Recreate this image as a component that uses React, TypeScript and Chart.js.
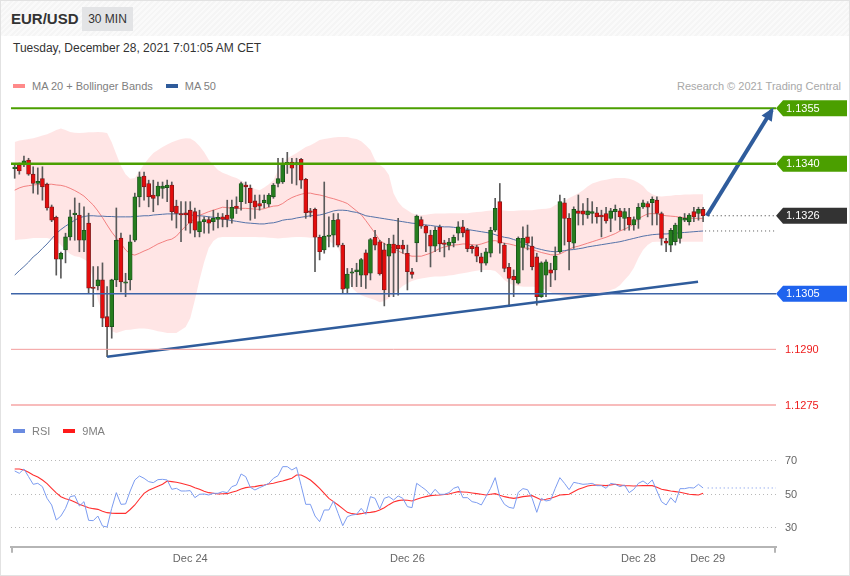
import React, { useEffect, useRef } from "react";
import { Chart, registerables } from "chart.js";

Chart.register(...registerables);

const FONT = '"Liberation Sans", Arial, Helvetica, sans-serif';
Chart.defaults.font.family = FONT;

// ---------------- DATA ----------------
const candleOpen = [
  1.13387, 1.13397, 1.13397, 1.1341, 1.13372, 1.13347, 1.1336, 1.13345, 1.13284, 1.13256,
  1.13143, 1.13168, 1.13203, 1.13263, 1.13262, 1.13194, 1.1324, 1.13066, 1.13071, 1.13087,
  1.12988, 1.12961, 1.13087, 1.132, 1.13078, 1.13087, 1.13194, 1.13311, 1.13367, 1.13347,
  1.13316, 1.13313, 1.13334, 1.13336, 1.13343, 1.13286, 1.13266, 1.13268, 1.13275, 1.13271,
  1.13217, 1.13244, 1.1325, 1.13244, 1.1325, 1.13257, 1.13262, 1.13253, 1.13286, 1.13298,
  1.13343, 1.13334, 1.133, 1.13293, 1.13295, 1.13291, 1.13311, 1.13347, 1.13351, 1.134,
  1.13405, 1.13397, 1.13412, 1.13358, 1.13272, 1.13277, 1.13202, 1.13168, 1.13204, 1.13208,
  1.1325, 1.13181, 1.13064, 1.13105, 1.13109, 1.131, 1.1316, 1.13105, 1.13202, 1.1319,
  1.13168, 1.13151, 1.13184, 1.13181, 1.13181, 1.13159, 1.13109, 1.13187, 1.1325, 1.13232,
  1.13208, 1.13178, 1.13229, 1.13187, 1.1318, 1.13187, 1.13213, 1.1323, 1.13221, 1.13178,
  1.13176, 1.13149, 1.13132, 1.13159, 1.13221, 1.13298, 1.13181, 1.13121, 1.13097, 1.13078,
  1.13175, 1.13203, 1.13178, 1.13149, 1.13042, 1.131, 1.13114, 1.13114, 1.13163, 1.13295,
  1.13253, 1.13186, 1.13273, 1.13273, 1.13262, 1.13266, 1.13268, 1.13262, 1.13266, 1.13253,
  1.13271, 1.13273, 1.13253, 1.13256, 1.13235, 1.1325, 1.13284, 1.13293, 1.13295, 1.13302,
  1.13266, 1.13192, 1.13181, 1.1319, 1.13199, 1.13248, 1.13244, 1.13271, 1.13266, 1.13277,
];
const candleHigh = [
  1.13397, 1.13402, 1.13421, 1.13415, 1.13392, 1.13389, 1.13392, 1.13348, 1.13289, 1.13259,
  1.13162, 1.13213, 1.13275, 1.13308, 1.13294, 1.13284, 1.13267, 1.13123, 1.13123, 1.13133,
  1.13069, 1.13089, 1.13281, 1.13213, 1.13105, 1.13208, 1.13321, 1.13378, 1.13378, 1.13356,
  1.13356, 1.13351, 1.13351, 1.13356, 1.13351, 1.13302, 1.13298, 1.13298, 1.13298, 1.13281,
  1.13275, 1.13257, 1.13257, 1.13275, 1.13267, 1.13266, 1.13302, 1.13302, 1.13311, 1.13351,
  1.13351, 1.13343, 1.13316, 1.13316, 1.13316, 1.1332, 1.13347, 1.13415, 1.13415, 1.13431,
  1.13415, 1.13415, 1.13415, 1.13361, 1.1328, 1.13281, 1.13208, 1.13351, 1.13257, 1.13266,
  1.13266, 1.13186, 1.13118, 1.13118, 1.13132, 1.13145, 1.13168, 1.13199, 1.13221, 1.13194,
  1.13186, 1.13199, 1.13208, 1.13253, 1.13194, 1.13181, 1.13118, 1.13262, 1.13257, 1.13235,
  1.13221, 1.1323, 1.13235, 1.13194, 1.13199, 1.13208, 1.13244, 1.13248, 1.13226, 1.13181,
  1.13181, 1.13159, 1.13172, 1.13229, 1.13307, 1.13347, 1.13186, 1.13132, 1.13114, 1.13203,
  1.1323, 1.13235, 1.13203, 1.13159, 1.13136, 1.13141, 1.13132, 1.13176, 1.13316, 1.13307,
  1.13266, 1.13284, 1.13316, 1.13293, 1.13307, 1.13298, 1.13283, 1.13275, 1.13283, 1.1328,
  1.13289, 1.1328, 1.1328, 1.1328, 1.13257, 1.13293, 1.13302, 1.13298, 1.13311, 1.13311,
  1.1327, 1.13199, 1.13226, 1.1324, 1.13257, 1.13266, 1.13266, 1.13283, 1.13283, 1.13283,
];
const candleLow = [
  1.13361, 1.13372, 1.13392, 1.13369, 1.13321, 1.13318, 1.13302, 1.13275, 1.13244, 1.131,
  1.13092, 1.13133, 1.13194, 1.13194, 1.13163, 1.13163, 1.13052, 1.13015, 1.1306, 1.12961,
  1.1288, 1.1293, 1.13069, 1.13055, 1.13042, 1.1306, 1.1319, 1.13284, 1.13302, 1.13284,
  1.13271, 1.13289, 1.13307, 1.13298, 1.13248, 1.13227, 1.1319, 1.13221, 1.13213, 1.13203,
  1.13203, 1.13213, 1.13213, 1.13221, 1.13227, 1.1323, 1.1323, 1.1324, 1.13266, 1.13275,
  1.13293, 1.13248, 1.13253, 1.13275, 1.13281, 1.13284, 1.13307, 1.13338, 1.13347, 1.13374,
  1.13347, 1.13343, 1.13334, 1.13253, 1.13257, 1.13109, 1.13141, 1.13159, 1.13176, 1.13176,
  1.13176, 1.13051, 1.13051, 1.13069, 1.13069, 1.13069, 1.13064, 1.13087, 1.13168, 1.131,
  1.13017, 1.13042, 1.13042, 1.13046, 1.13159, 1.1306, 1.13092, 1.13136, 1.13226, 1.13163,
  1.13122, 1.13163, 1.13163, 1.13149, 1.13168, 1.13176, 1.13194, 1.13203, 1.13163, 1.13159,
  1.13136, 1.13109, 1.13127, 1.13149, 1.13217, 1.13159, 1.13109, 1.13015, 1.13042, 1.13076,
  1.13114, 1.13168, 1.13114, 1.13019, 1.1304, 1.13042, 1.13069, 1.13087, 1.13159, 1.13181,
  1.13114, 1.13172, 1.13235, 1.13235, 1.13253, 1.1324, 1.1324, 1.13203, 1.1324, 1.13217,
  1.13248, 1.13221, 1.13221, 1.13221, 1.13221, 1.13226, 1.1328, 1.13257, 1.13235, 1.13235,
  1.13181, 1.13163, 1.13163, 1.13181, 1.13186, 1.13244, 1.13235, 1.13244, 1.13248, 1.13244,
];
const candleClose = [
  1.13391, 1.13381, 1.13408, 1.13372, 1.13347, 1.13353, 1.13338, 1.13281, 1.13248, 1.13143,
  1.13159, 1.13203, 1.13257, 1.13266, 1.13194, 1.13221, 1.13065, 1.13064, 1.13087, 1.12984,
  1.12961, 1.13087, 1.13194, 1.13082, 1.13082, 1.1319, 1.13311, 1.13365, 1.13338, 1.13311,
  1.13307, 1.1334, 1.1334, 1.13343, 1.13271, 1.13266, 1.13262, 1.13262, 1.1324, 1.13221,
  1.13244, 1.1325, 1.1324, 1.13253, 1.13256, 1.1325, 1.1325, 1.13283, 1.1328, 1.13347,
  1.13338, 1.13295, 1.13283, 1.13286, 1.13302, 1.13316, 1.13343, 1.1336, 1.13401, 1.13402,
  1.13388, 1.13403, 1.13356, 1.13268, 1.13269, 1.13202, 1.13163, 1.13205, 1.13207, 1.13248,
  1.13181, 1.13062, 1.13103, 1.13109, 1.13114, 1.13142, 1.131, 1.13196, 1.13181, 1.13103,
  1.1306, 1.13184, 1.13159, 1.13171, 1.1317, 1.13109, 1.13102, 1.13259, 1.13232, 1.13213,
  1.13178, 1.13221, 1.13184, 1.13183, 1.13189, 1.13202, 1.1323, 1.13214, 1.13171, 1.13171,
  1.13151, 1.13132, 1.13163, 1.13221, 1.1328, 1.13186, 1.13118, 1.13091, 1.13087, 1.13199,
  1.13199, 1.13186, 1.13123, 1.13042, 1.13133, 1.13136, 1.13105, 1.13151, 1.13298, 1.13253,
  1.1319, 1.13277, 1.13266, 1.13264, 1.13273, 1.13271, 1.13257, 1.13257, 1.13246, 1.13273,
  1.13277, 1.13257, 1.13271, 1.13235, 1.1325, 1.13283, 1.13295, 1.13283, 1.13304, 1.13266,
  1.13199, 1.13186, 1.13221, 1.13235, 1.13256, 1.13253, 1.13262, 1.13257, 1.13277, 1.1326,
];
const bbUpper = [
  1.13459, 1.13463, 1.13465, 1.13467, 1.13469, 1.13472, 1.13476, 1.1348, 1.13485, 1.13491,
  1.13495, 1.13491, 1.13486, 1.13484, 1.13483, 1.13484, 1.13485, 1.13485, 1.13486, 1.13485,
  1.13483, 1.13458, 1.13426, 1.13394, 1.13372, 1.1336, 1.13362, 1.1338, 1.13399, 1.13415,
  1.13429, 1.13437, 1.13445, 1.13452, 1.13458, 1.13463, 1.13467, 1.13469, 1.13468, 1.13461,
  1.13448, 1.13432, 1.13411, 1.13397, 1.13383, 1.13376, 1.13371, 1.13366, 1.13362, 1.13355,
  1.13348, 1.1334, 1.13332, 1.13329, 1.13336, 1.13345, 1.13356, 1.13383, 1.13403, 1.13415,
  1.13422, 1.13429, 1.13437, 1.13445, 1.1345, 1.13457, 1.13464, 1.13467, 1.13469, 1.13471,
  1.13472, 1.13472, 1.13472, 1.13469, 1.13467, 1.13461, 1.1345, 1.13437, 1.1341, 1.13397,
  1.13388, 1.1337, 1.13321, 1.13297, 1.13283, 1.13275, 1.13267, 1.13263, 1.13262, 1.13263,
  1.13265, 1.13266, 1.13266, 1.13266, 1.13267, 1.13267, 1.13267, 1.13267, 1.13267, 1.13269,
  1.1327, 1.13271, 1.13273, 1.13274, 1.13275, 1.13275, 1.13274, 1.13273, 1.13273, 1.13274,
  1.13275, 1.13275, 1.13275, 1.13277, 1.13278, 1.13279, 1.13281, 1.13289, 1.13294, 1.133,
  1.13308, 1.13314, 1.13321, 1.13329, 1.13339, 1.13347, 1.13351, 1.13355, 1.13357, 1.1336,
  1.13362, 1.13362, 1.13362, 1.1336, 1.13356, 1.13349, 1.1334, 1.13326, 1.13318, 1.13313,
  1.13312, 1.13313, 1.13314, 1.13316, 1.13316, 1.13317, 1.13317, 1.13318, 1.13318, 1.13318,
];
const bbLower = [
  1.13194, 1.13196, 1.13197, 1.13198, 1.132, 1.132, 1.132, 1.132, 1.13197, 1.13192,
  1.13181, 1.13168, 1.13157, 1.13151, 1.13149, 1.13143, 1.13135, 1.13087, 1.13033, 1.12998,
  1.12965, 1.12949, 1.12944, 1.12948, 1.12952, 1.12953, 1.12955, 1.12956, 1.12956, 1.12955,
  1.12952, 1.12949, 1.12947, 1.12944, 1.12944, 1.12944, 1.12952, 1.1296, 1.12984, 1.13033,
  1.13087, 1.13135, 1.13173, 1.13192, 1.13201, 1.13203, 1.13203, 1.13203, 1.13203, 1.13203,
  1.13203, 1.13203, 1.13203, 1.13202, 1.13202, 1.13201, 1.132, 1.13199, 1.132, 1.13201,
  1.13202, 1.13203, 1.13203, 1.13202, 1.13201, 1.132, 1.13199, 1.13197, 1.13192, 1.13184,
  1.13173, 1.13146, 1.13097, 1.13065, 1.13054, 1.13046, 1.13041, 1.13037, 1.13033, 1.13027,
  1.1303, 1.13038, 1.1305, 1.1306, 1.13071, 1.13078, 1.13084, 1.13088, 1.13091, 1.13093,
  1.13095, 1.13096, 1.13096, 1.13097, 1.13099, 1.131, 1.13103, 1.13105, 1.13107, 1.1311,
  1.13112, 1.13114, 1.13114, 1.13114, 1.13111, 1.131, 1.13087, 1.13078, 1.13073, 1.13071,
  1.13069, 1.13069, 1.13069, 1.13068, 1.13065, 1.1306, 1.13054, 1.13049, 1.13045, 1.13042,
  1.1304, 1.13037, 1.13037, 1.1304, 1.13044, 1.13046, 1.1305, 1.13052, 1.13054, 1.1306,
  1.13064, 1.13073, 1.13087, 1.131, 1.13119, 1.13146, 1.13168, 1.13181, 1.13189, 1.1319,
  1.1319, 1.1319, 1.1319, 1.1319, 1.1319, 1.1319, 1.1319, 1.1319, 1.1319, 1.1319,
];
const ma20 = [
  1.13329, 1.13335, 1.13339, 1.13341, 1.13343, 1.13344, 1.13345, 1.13345, 1.13345, 1.13343,
  1.13342, 1.13339, 1.13334, 1.13328, 1.13321, 1.13313, 1.13301, 1.13289, 1.13273, 1.13255,
  1.13235, 1.13216, 1.132, 1.13185, 1.13168, 1.13157, 1.13154, 1.13159, 1.13165, 1.1317,
  1.13177, 1.13184, 1.13189, 1.13194, 1.13197, 1.13205, 1.13219, 1.13232, 1.13244, 1.13252,
  1.13261, 1.13266, 1.13271, 1.13275, 1.13279, 1.13283, 1.13282, 1.1328, 1.1328, 1.1328,
  1.1328, 1.13279, 1.13278, 1.13277, 1.13279, 1.13283, 1.13286, 1.13287, 1.13293, 1.13302,
  1.13309, 1.13314, 1.13318, 1.13321, 1.13321, 1.13318, 1.13316, 1.13313, 1.13309, 1.13306,
  1.13302, 1.13298, 1.13293, 1.13283, 1.13273, 1.13263, 1.13247, 1.1323, 1.13213, 1.13194,
  1.13185, 1.13177, 1.13172, 1.13165, 1.13159, 1.13154, 1.13151, 1.13151, 1.13151, 1.13155,
  1.13159, 1.13165, 1.13172, 1.13176, 1.13178, 1.13181, 1.13182, 1.13184, 1.13184, 1.13182,
  1.13181, 1.13184, 1.13188, 1.13192, 1.13193, 1.1319, 1.13186, 1.13184, 1.13181, 1.13177,
  1.13174, 1.13172, 1.13169, 1.13165, 1.13161, 1.13158, 1.13155, 1.13154, 1.13157, 1.13163,
  1.1317, 1.13175, 1.13178, 1.13182, 1.13186, 1.1319, 1.13194, 1.13198, 1.13202, 1.13207,
  1.13212, 1.13219, 1.13224, 1.1323, 1.13238, 1.13252, 1.13259, 1.13265, 1.13266, 1.13265,
  1.13262, 1.1326, 1.13259, 1.13258, 1.13256, 1.13255, 1.13254, 1.13253, 1.13253, 1.13253,
];
const ma50 = [
  1.131, 1.13112, 1.13123, 1.13135, 1.13149, 1.13159, 1.13172, 1.13184, 1.13198, 1.13212,
  1.13223, 1.13232, 1.1324, 1.13248, 1.13255, 1.13258, 1.1326, 1.1326, 1.13259, 1.13259,
  1.13258, 1.13258, 1.13257, 1.13257, 1.13257, 1.13257, 1.13258, 1.13259, 1.1326, 1.1326,
  1.13262, 1.13263, 1.13264, 1.13265, 1.13265, 1.13265, 1.13265, 1.13264, 1.13262, 1.13261,
  1.1326, 1.13259, 1.13257, 1.13256, 1.13254, 1.13252, 1.13249, 1.13247, 1.13245, 1.13243,
  1.13241, 1.1324, 1.13239, 1.13238, 1.13238, 1.1324, 1.13241, 1.13244, 1.13248, 1.1325,
  1.13251, 1.13254, 1.13256, 1.13258, 1.1326, 1.13261, 1.13262, 1.13265, 1.13269, 1.13273,
  1.13275, 1.13275, 1.13274, 1.13271, 1.13269, 1.13265, 1.1326, 1.13258, 1.13256, 1.13254,
  1.13252, 1.1325, 1.13248, 1.13246, 1.13244, 1.13242, 1.1324, 1.13239, 1.13237, 1.13235,
  1.13234, 1.13232, 1.13231, 1.1323, 1.1323, 1.13229, 1.13227, 1.13225, 1.13223, 1.13221,
  1.13219, 1.13217, 1.13215, 1.13213, 1.13209, 1.13205, 1.13202, 1.132, 1.13196, 1.13192,
  1.13186, 1.13181, 1.13176, 1.13172, 1.13169, 1.13166, 1.13164, 1.13163, 1.13164, 1.13166,
  1.13168, 1.13169, 1.13171, 1.13173, 1.13176, 1.13178, 1.1318, 1.13182, 1.13184, 1.13186,
  1.13188, 1.1319, 1.13193, 1.13196, 1.13199, 1.13202, 1.13205, 1.13207, 1.13209, 1.1321,
  1.13211, 1.13211, 1.13212, 1.13213, 1.13214, 1.13215, 1.13216, 1.13217, 1.13218, 1.13219,
];
const rsi = [
  63.6, 62.2, 64.8, 60.2, 55.6, 56.2, 54.2, 47.2, 43.2, 34.2,
  36.6, 41.2, 48.2, 48.8, 42.6, 45.2, 34.0, 33.8, 36.6, 30.6,
  30.0, 41.2, 50.6, 43.6, 43.8, 51.6, 58.2, 60.6, 59.2, 57.2,
  56.6, 58.4, 58.6, 58.2, 52.6, 53.2, 51.6, 51.6, 51.8, 47.6,
  49.6, 49.8, 49.2, 50.2, 50.2, 51.2, 50.6, 54.2, 55.2, 61.8,
  60.2, 53.8, 52.2, 53.6, 54.8, 56.2, 59.2, 60.8, 66.2, 66.2,
  64.2, 65.8, 54.8, 43.6, 43.6, 36.6, 33.2, 40.2, 40.2, 45.6,
  38.2, 30.8, 36.2, 37.2, 37.6, 41.2, 37.6, 48.2, 47.2, 40.8,
  47.2, 48.2, 46.2, 48.6, 47.2, 42.2, 41.6, 56.2, 54.2, 52.2,
  49.2, 52.6, 49.6, 49.6, 50.6, 53.2, 54.2, 47.6, 47.6, 45.2,
  44.6, 43.2, 48.2, 53.2, 59.6, 48.2, 43.6, 41.8, 41.2, 50.8,
  53.0, 52.4, 47.2, 38.8, 47.2, 45.6, 46.2, 53.2, 59.6, 56.2,
  52.4, 56.8, 56.2, 55.6, 55.8, 56.2, 54.8, 54.8, 53.2, 56.2,
  55.6, 54.2, 55.2, 50.6, 52.6, 56.2, 57.6, 55.6, 58.2, 51.6,
  45.2, 43.2, 47.6, 44.6, 53.0, 53.0, 53.6, 53.4, 55.6, 53.4,
];
const rsiMa9 = [
  64.8, 64.8, 64.2, 62.8, 61.2, 60.0, 58.2, 56.0, 53.2, 50.5,
  48.2, 47.0, 46.2, 45.0, 43.6, 42.6, 41.6, 41.0, 40.6, 39.5,
  38.6, 38.3, 38.2, 38.2, 38.2, 40.5, 43.2, 46.8, 50.2, 52.0,
  53.2, 54.5, 55.6, 57.6, 57.2, 56.8, 56.2, 55.5, 54.8, 53.6,
  52.6, 51.5, 50.6, 50.2, 49.8, 49.9, 50.0, 50.8, 51.6, 52.8,
  53.6, 54.0, 54.2, 54.8, 55.2, 55.8, 56.2, 57.0, 57.6, 58.4,
  59.2, 61.2, 61.2, 59.8, 58.2, 55.8, 53.2, 50.2, 47.2, 45.2,
  43.2, 41.0, 38.8, 38.0, 37.6, 38.0, 38.6, 38.8, 39.2, 40.2,
  41.6, 43.4, 45.0, 45.8, 46.2, 46.0, 45.6, 46.6, 47.6, 48.2,
  48.8, 49.0, 49.2, 49.5, 49.8, 50.5, 51.2, 51.0, 50.8, 50.4,
  50.0, 49.6, 49.2, 49.6, 50.0, 49.0, 48.2, 47.6, 47.2, 47.6,
  48.2, 48.5, 48.8, 47.5, 46.2, 46.6, 47.2, 48.2, 49.2, 49.4,
  49.6, 51.2, 52.6, 53.6, 54.6, 55.0, 55.2, 55.0, 54.8, 55.2,
  55.6, 55.2, 54.8, 54.7, 54.6, 54.7, 54.8, 54.8, 54.8, 53.8,
  52.6, 52.1, 51.6, 51.2, 50.8, 50.2, 49.6, 49.4, 49.2, 50.2,
];
const dateTickIndex = [38, 85, 135, 150];
const dateTickLabels = ["Dec 24", "Dec 26", "Dec 28", "Dec 29"];
const levelValues = [1.1355, 1.134, 1.1305, 1.129, 1.1275];
const lastPrice = 1.1326;
const trendX = [20, 147.9];
const trendY = [1.1288, 1.13082];
const arrowX = [149.8, 163.9];
const arrowY = [1.1326, 1.13545];
const rsiLevels = [70, 50, 30];

// ---------------- STYLE / LAYOUT ----------------
const X_MIN = -0.8;
const X_MAX = 164.78;
const PRICE_MIN = 1.12723;
const PRICE_MAX = 1.13572;
const RSI_MIN = 18.13;
const RSI_MAX = 76.18;
const GREEN_UP = "#267d1e";
const RED_DOWN = "#e30d0d";
const levelStyles = [
  { line: "#4b9f00", width: 2, tag: "#4b9f00" },
  { line: "#4b9f00", width: 2.5, tag: "#4b9f00" },
  { line: "#3d64a8", width: 1.5, tag: "#1f63ee" },
  { line: "#f39c9c", width: 1, text: "#ee1c1c" },
  { line: "#f8bcbc", width: 2, text: "#ee1c1c" },
];

function drawTag(ctx: CanvasRenderingContext2D, x: number, y: number, color: string, text: string) {
  const h = 16;
  const tip = 7;
  const right = 847;
  ctx.beginPath();
  ctx.moveTo(x, y);
  ctx.lineTo(x + tip, y - h / 2);
  ctx.lineTo(right, y - h / 2);
  ctx.lineTo(right, y + h / 2);
  ctx.lineTo(x + tip, y + h / 2);
  ctx.closePath();
  ctx.fillStyle = color;
  ctx.fill();
  ctx.fillStyle = "#ffffff";
  ctx.font = `11px ${FONT}`;
  ctx.textAlign = "left";
  ctx.textBaseline = "middle";
  ctx.fillText(text, x + 10, y + 0.5);
}

const mainOverlay = {
  id: "mainOverlay",
  afterDatasetsDraw(chart: any) {
    const { ctx, chartArea, scales } = chart;
    const ys = scales.y;
    const xs = scales.x;
    ctx.save();
    levelValues.forEach((v, i) => {
      const st: any = levelStyles[i];
      const y = ys.getPixelForValue(v);
      ctx.beginPath();
      ctx.strokeStyle = st.line;
      ctx.lineWidth = st.width;
      ctx.moveTo(chartArea.left, y);
      ctx.lineTo(chartArea.right, y);
      ctx.stroke();
    });
    ctx.setLineDash([1, 3]);
    ctx.lineWidth = 1;
    ctx.strokeStyle = "#333";
    const yLast = ys.getPixelForValue(lastPrice);
    ctx.beginPath();
    ctx.moveTo(xs.getPixelForValue(candleClose.length) + 1, yLast);
    ctx.lineTo(chartArea.right, yLast);
    ctx.stroke();
    const yMa = ys.getPixelForValue(ma50[ma50.length - 1]);
    ctx.strokeStyle = "#555";
    ctx.beginPath();
    ctx.moveTo(xs.getPixelForValue(ma50.length - 1) + 2, yMa);
    ctx.lineTo(chartArea.right, yMa);
    ctx.stroke();
    ctx.setLineDash([]);
    const meta = chart.getDatasetMeta(7);
    if (meta && meta.data.length >= 2) {
      const p1 = meta.data[meta.data.length - 2];
      const p2 = meta.data[meta.data.length - 1];
      const ang = Math.atan2(p2.y - p1.y, p2.x - p1.x);
      const dx = Math.cos(ang);
      const dy = Math.sin(ang);
      const tipX = p2.x + dx * 3;
      const tipY = p2.y + dy * 3;
      const bx = tipX - dx * 13;
      const by = tipY - dy * 13;
      ctx.beginPath();
      ctx.moveTo(tipX, tipY);
      ctx.lineTo(bx - dy * 6, by + dx * 6);
      ctx.lineTo(bx + dy * 6, by - dx * 6);
      ctx.closePath();
      ctx.fillStyle = "#2f5c9c";
      ctx.fill();
    }
    levelValues.forEach((v, i) => {
      const st: any = levelStyles[i];
      const y = ys.getPixelForValue(v);
      if (st.tag) {
        drawTag(ctx, chartArea.right, y, st.tag, v.toFixed(4));
      } else {
        ctx.fillStyle = st.text;
        ctx.font = `11px ${FONT}`;
        ctx.textAlign = "left";
        ctx.textBaseline = "middle";
        ctx.fillText(v.toFixed(4), chartArea.right + 9, y + 0.5);
      }
    });
    drawTag(ctx, chartArea.right, yLast, "#333333", lastPrice.toFixed(4));
    ctx.restore();
  },
};

const rsiOverlay = {
  id: "rsiOverlay",
  beforeDatasetsDraw(chart: any) {
    const { ctx, chartArea, scales } = chart;
    ctx.save();
    ctx.setLineDash([1, 3]);
    ctx.lineWidth = 1;
    ctx.strokeStyle = "#b8b8b8";
    rsiLevels.forEach((v) => {
      const y = Math.round(scales.y.getPixelForValue(v)) + 0.5;
      ctx.beginPath();
      ctx.moveTo(chartArea.left, y);
      ctx.lineTo(chartArea.right, y);
      ctx.stroke();
    });
    ctx.restore();
  },
  afterDatasetsDraw(chart: any) {
    const { ctx, chartArea, scales } = chart;
    ctx.save();
    ctx.fillStyle = "#666";
    ctx.font = `11px ${FONT}`;
    ctx.textAlign = "left";
    ctx.textBaseline = "middle";
    rsiLevels.forEach((v) => {
      ctx.fillText(String(v), chartArea.right + 9, scales.y.getPixelForValue(v) + 1);
    });
    ctx.setLineDash([1, 3]);
    ctx.strokeStyle = "#6f8fe8";
    ctx.lineWidth = 1;
    const yl = scales.y.getPixelForValue(rsi[rsi.length - 1]);
    ctx.beginPath();
    ctx.moveTo(scales.x.getPixelForValue(rsi.length), yl);
    ctx.lineTo(chartArea.right, yl);
    ctx.stroke();
    ctx.setLineDash([]);
    ctx.strokeStyle = "#b5b5b5";
    ctx.lineWidth = 2;
    [chartArea.left + 1, chartArea.right - 1].forEach((x) => {
      ctx.beginPath();
      ctx.moveTo(x, chartArea.bottom);
      ctx.lineTo(x, chartArea.bottom + 6);
      ctx.stroke();
    });
    ctx.restore();
  },
};

function pts(arr: number[]) {
  return arr.map((v, i) => ({ x: i, y: v }));
}

export default function App() {
  const mainRef = useRef<HTMLCanvasElement>(null);
  const rsiRef = useRef<HTMLCanvasElement>(null);

  useEffect(() => {
    const idx = candleOpen.map((_, i) => i);
    const isUp = idx.map((i) => candleClose[i] >= candleOpen[i]);
    const main = new Chart(mainRef.current as HTMLCanvasElement, {
      type: "bar",
      data: {
        datasets: [
          {
            type: "bar",
            label: "body",
            data: idx.map((i) => ({ x: i, y: [candleOpen[i], candleClose[i]] })) as any,
            backgroundColor: isUp.map((u) => (u ? GREEN_UP : RED_DOWN)),
            borderColor: isUp.map((u) => (u ? "#17501a" : "#7a1a1a")),
            borderWidth: 0.8,
            borderSkipped: false,
            barThickness: 4,
            minBarLength: 1.5,
            grouped: false,
            order: 2,
          } as any,
          {
            type: "bar",
            label: "wick",
            data: idx.map((i) => ({ x: i, y: [candleLow[i], candleHigh[i]] })) as any,
            backgroundColor: "#5a5a5a",
            borderWidth: 0,
            barThickness: 1,
            grouped: false,
            order: 3,
          } as any,
          {
            type: "line",
            label: "bbUpper",
            data: pts(bbUpper),
            borderColor: "rgba(0,0,0,0)",
            backgroundColor: "rgba(255,0,0,0.1)",
            pointRadius: 0,
            fill: "+1",
            order: 10,
          } as any,
          {
            type: "line",
            label: "bbLower",
            data: pts(bbLower),
            borderColor: "rgba(0,0,0,0)",
            pointRadius: 0,
            fill: false,
            order: 11,
          } as any,
          {
            type: "line",
            label: "ma20",
            data: pts(ma20),
            borderColor: "rgba(240,110,110,0.85)",
            borderWidth: 1,
            pointRadius: 0,
            fill: false,
            order: 6,
          } as any,
          {
            type: "line",
            label: "ma50",
            data: pts(ma50),
            borderColor: "#5472a8",
            borderWidth: 1,
            pointRadius: 0,
            fill: false,
            order: 5,
          } as any,
          {
            type: "line",
            label: "trend",
            data: trendX.map((x, i) => ({ x, y: trendY[i] })),
            borderColor: "#2f5c9c",
            borderWidth: 2.5,
            pointRadius: 0,
            fill: false,
            order: 1,
          } as any,
          {
            type: "line",
            label: "arrow",
            data: arrowX.map((x, i) => ({ x, y: arrowY[i] })),
            borderColor: "#2f5c9c",
            borderWidth: 4,
            pointRadius: 0,
            fill: false,
            clip: false,
            order: 0,
          } as any,
        ],
      },
      options: {
        responsive: false,
        animation: false,
        devicePixelRatio: 1,
        events: [],
        layout: { padding: { left: 11, right: 74, top: 10, bottom: 10 } },
        plugins: { legend: { display: false }, tooltip: { enabled: false } },
        scales: {
          x: { type: "linear", min: X_MIN, max: X_MAX, display: false, offset: false },
          y: { type: "linear", min: PRICE_MIN, max: PRICE_MAX, display: false },
        },
      } as any,
      plugins: [mainOverlay],
    });

    const rsiChart = new Chart(rsiRef.current as HTMLCanvasElement, {
      type: "line",
      data: {
        datasets: [
          {
            label: "RSI",
            data: pts(rsi),
            borderColor: "#7c9cf0",
            borderWidth: 1,
            pointRadius: 0,
            fill: false,
          },
          {
            label: "9MA",
            data: pts(rsiMa9),
            borderColor: "#ff3030",
            borderWidth: 1.1,
            pointRadius: 0,
            fill: false,
          },
        ],
      },
      options: {
        responsive: false,
        animation: false,
        devicePixelRatio: 1,
        events: [],
        layout: { padding: { left: 11, right: 74, top: 10, bottom: 4 } },
        plugins: { legend: { display: false }, tooltip: { enabled: false } },
        scales: {
          x: {
            type: "linear",
            min: X_MIN,
            max: X_MAX,
            offset: false,
            grid: { display: false, drawTicks: false },
            border: { display: true, color: "#b5b5b5", width: 2 },
            afterBuildTicks: (scale: any) => {
              scale.ticks = dateTickIndex.map((v) => ({ value: v }));
            },
            ticks: {
              autoSkip: false,
              maxRotation: 0,
              padding: 6,
              color: "#666",
              font: { size: 11, family: FONT },
              callback: (v: any) => {
                const k = dateTickIndex.indexOf(Number(v));
                return k >= 0 ? dateTickLabels[k] : "";
              },
            },
          },
          y: { type: "linear", min: RSI_MIN, max: RSI_MAX, display: false },
        },
      } as any,
      plugins: [rsiOverlay],
    });

    return () => {
      main.destroy();
      rsiChart.destroy();
    };
  }, []);

  const legendText: React.CSSProperties = { fontSize: 11, color: "#808080", marginRight: 13 };
  const swatch = (c: string): React.CSSProperties => ({
    display: "inline-block",
    width: 12,
    height: 4,
    background: c,
    marginRight: 7,
  });

  return (
    <div
      style={{
        position: "absolute",
        left: 0,
        top: 0,
        width: 850,
        height: 576,
        background: "#ffffff",
        fontFamily: FONT,
        overflow: "hidden",
      }}
    >
      <div
        style={{
          position: "absolute",
          left: 0,
          top: 0,
          width: 850,
          height: 36,
          background:
            "repeating-linear-gradient(135deg, #f5f5f5 0px, #f5f5f5 2px, #fafafa 2px, #fafafa 4px)",
        }}
      />
      <div
        style={{
          position: "absolute",
          left: 11,
          top: 10,
          fontSize: 15,
          lineHeight: "18px",
          fontWeight: "bold",
          color: "#333",
        }}
      >
        EUR/USD
      </div>
      <div
        style={{
          position: "absolute",
          left: 82,
          top: 7,
          width: 51,
          height: 24,
          background: "#e3e4e6",
          color: "#333",
          fontSize: 12,
          display: "flex",
          alignItems: "center",
          justifyContent: "center",
        }}
      >
        30 MIN
      </div>
      <div
        style={{
          position: "absolute",
          left: 13,
          top: 41,
          fontSize: 12,
          lineHeight: "14px",
          color: "#333",
        }}
      >
        Tuesday, December 28, 2021 7:01:05 AM CET
      </div>
      <div
        style={{
          position: "absolute",
          left: 13,
          top: 79,
          height: 14,
          display: "flex",
          alignItems: "center",
        }}
      >
        <span style={swatch("#ff8a8a")} />
        <span style={legendText}>MA 20 + Bollinger Bands</span>
        <span style={swatch("#2f5b9b")} />
        <span style={legendText}>MA 50</span>
      </div>
      <div
        style={{
          position: "absolute",
          right: 9,
          top: 79,
          height: 14,
          display: "flex",
          alignItems: "center",
          fontSize: 11,
          color: "#a8a8a8",
        }}
      >
        Research © 2021 Trading Central
      </div>
      <canvas
        ref={mainRef}
        width={850}
        height={335}
        style={{ position: "absolute", left: 0, top: 90, width: 850, height: 335 }}
      />
      <div
        style={{
          position: "absolute",
          left: 13,
          top: 424,
          height: 14,
          display: "flex",
          alignItems: "center",
        }}
      >
        <span style={swatch("#6a8be0")} />
        <span style={legendText}>RSI</span>
        <span style={swatch("#ff1a1a")} />
        <span style={legendText}>9MA</span>
      </div>
      <canvas
        ref={rsiRef}
        width={850}
        height={136}
        style={{ position: "absolute", left: 0, top: 440, width: 850, height: 136 }}
      />
      <div
        style={{
          position: "absolute",
          left: 0,
          top: 0,
          width: 850,
          height: 576,
          boxSizing: "border-box",
          border: "1px solid #e2e2e2",
          pointerEvents: "none",
        }}
      />
    </div>
  );
}
